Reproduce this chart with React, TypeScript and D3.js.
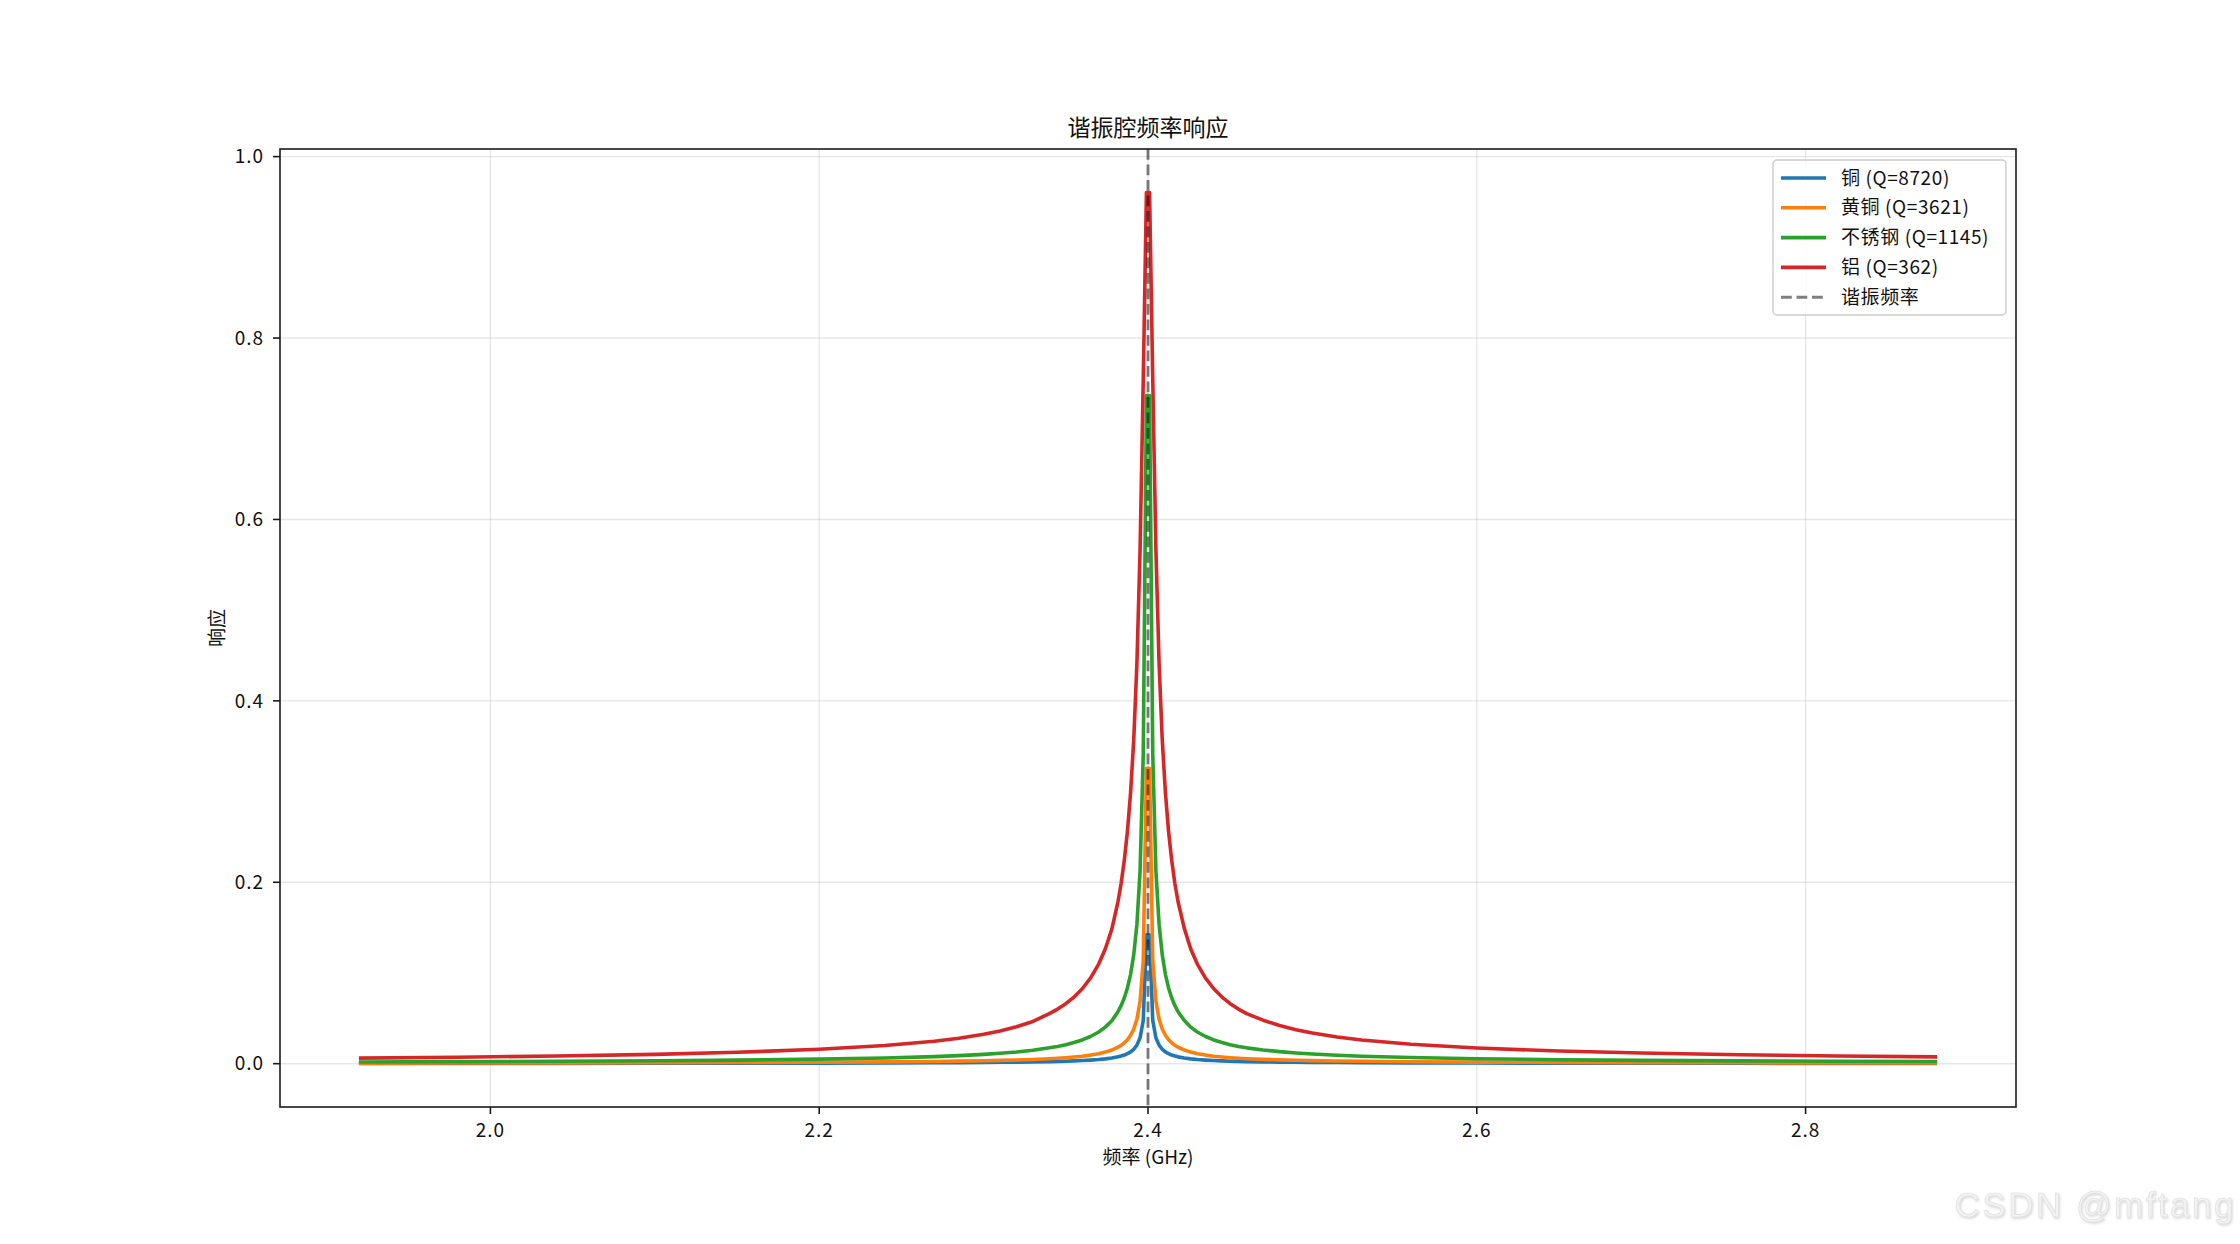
import React from "react";
import * as d3 from "d3";

const freqs = [
  1.92, 1.98, 2.04, 2.1, 2.15, 2.2, 2.24, 2.27, 2.285, 2.3, 2.31, 2.32, 2.33, 2.34, 2.345, 2.35, 2.355, 2.36,
  2.365, 2.37, 2.374, 2.378,
  2.381724, 2.383648, 2.385571, 2.387495, 2.389419, 2.391343, 2.393267, 2.39519, 2.397114, 2.399038,
  2.400962, 2.402886, 2.40481, 2.406733, 2.408657, 2.410581, 2.412505, 2.414429, 2.416352, 2.418276,
  2.422, 2.426, 2.43, 2.435, 2.44, 2.445, 2.45, 2.455, 2.46, 2.47, 2.48, 2.49, 2.5, 2.515, 2.53, 2.56, 2.6,
  2.65, 2.7, 2.76, 2.82, 2.88,
];

const copper = [
  0.000255, 0.000296, 0.000351, 0.000428, 0.00052, 0.000658, 0.00083, 0.001029, 0.001167, 0.001347, 0.0015,
  0.001691, 0.001937, 0.002294, 0.002502, 0.002752, 0.003058, 0.00344, 0.003932, 0.004587, 0.005293, 0.006227,
  0.00753, 0.008415, 0.009537, 0.011, 0.01301, 0.0159, 0.02044, 0.02861, 0.04763, 0.1417,
  0.1417, 0.04763, 0.02861, 0.02044, 0.0159, 0.01301, 0.011, 0.009537, 0.008415, 0.00753,
  0.006284, 0.005293, 0.004587, 0.003932, 0.00344, 0.003058, 0.002752, 0.002502, 0.002294, 0.001994, 0.001748,
  0.001557, 0.001404, 0.001225, 0.001086, 0.000888, 0.000716, 0.000578, 0.000486, 0.000409, 0.000354, 0.000313,
];

const brass = [
  0.000614, 0.000713, 0.000846, 0.001031, 0.001253, 0.001585, 0.002, 0.002478, 0.002811, 0.003243, 0.003612,
  0.004072, 0.004664, 0.005523, 0.006025, 0.006628, 0.007364, 0.008285, 0.009469, 0.01105, 0.01275, 0.01499,
  0.01813, 0.02026, 0.02296, 0.0265, 0.03131, 0.03825, 0.04916, 0.06873, 0.1141, 0.3257,
  0.3257, 0.1141, 0.06873, 0.04916, 0.03825, 0.03131, 0.0265, 0.02296, 0.02026, 0.01813,
  0.01513, 0.01275, 0.01105, 0.009469, 0.008285, 0.007364, 0.006628, 0.006025, 0.005523, 0.004802, 0.00421,
  0.00375, 0.003382, 0.002949, 0.002616, 0.002138, 0.001723, 0.001391, 0.00117, 0.000985, 0.000853, 0.000753,
];

const steel = [
  0.001941, 0.002256, 0.002675, 0.003261, 0.003962, 0.005012, 0.006325, 0.007837, 0.00889, 0.010257, 0.011422,
  0.012878, 0.01475, 0.01747, 0.01905, 0.02096, 0.02328, 0.02619, 0.02993, 0.03491, 0.04029, 0.04737,
  0.05725, 0.06396, 0.07244, 0.08352, 0.09856, 0.1202, 0.1538, 0.2129, 0.3413, 0.7367,
  0.7367, 0.3413, 0.2129, 0.1538, 0.1202, 0.09856, 0.08352, 0.07244, 0.06396, 0.05725,
  0.0478, 0.04029, 0.03491, 0.02993, 0.02619, 0.02328, 0.02096, 0.01905, 0.01747, 0.01518, 0.013315,
  0.011859, 0.010694, 0.009326, 0.008274, 0.006761, 0.00545, 0.0044, 0.003699, 0.003114, 0.002696, 0.002382,
];

const aluminum = [
  0.006139, 0.007136, 0.008462, 0.01031, 0.01253, 0.01585, 0.02, 0.02478, 0.02811, 0.03243, 0.0361, 0.0407,
  0.0466, 0.05516, 0.06016, 0.06615, 0.07347, 0.08259, 0.09429, 0.1098, 0.1265, 0.1483,
  0.1785, 0.1987, 0.2239, 0.2562, 0.299, 0.3576, 0.4417, 0.5675, 0.7542, 0.9604,
  0.9604, 0.7542, 0.5675, 0.4417, 0.3576, 0.299, 0.2562, 0.2239, 0.1987, 0.1785,
  0.1497, 0.1265, 0.1098, 0.09429, 0.08259, 0.07347, 0.06615, 0.06016, 0.05516, 0.04798, 0.04208,
  0.03748, 0.03381, 0.02949, 0.02617, 0.02138, 0.01724, 0.01392, 0.0117, 0.009851, 0.008527, 0.007534,
];

const seriesNames = ["铜 (Q=8720)", "黄铜 (Q=3621)", "不锈钢 (Q=1145)", "铝 (Q=362)"];
const seriesColors = ["#1f77b4", "#ff7f0e", "#2ca02c", "#d62728"];
const seriesValues = [copper, brass, steel, aluminum];
const resonanceFreq = 2.4;
const resonanceLabel = "谐振频率";

const xTicks = [2.0, 2.2, 2.4, 2.6, 2.8];
const yTicks = [0.0, 0.2, 0.4, 0.6, 0.8, 1.0];

const titleText = "谐振腔频率响应";
const xLabel = "频率 (GHz)";
const yLabel = "响应";

const W = 2240;
const H = 1244;
const L = 280;
const R = 2016;
const T = 149;
const B = 1107;
const FONT = "'Noto Sans CJK SC', 'Noto Sans', sans-serif";

export default function App() {
  const xMin = d3.min(freqs)!;
  const xMax = d3.max(freqs)!;
  const xPad = (xMax - xMin) * 0.05;
  const allVals = seriesValues.flat();
  const yMin = d3.min(allVals)!;
  const yMax = d3.max(allVals)!;
  const yPad = (yMax - yMin) * 0.05;

  const x = d3.scaleLinear().domain([xMin - xPad, xMax + xPad]).range([L, R]);
  const y = d3.scaleLinear().domain([yMin - yPad, yMax + yPad]).range([B, T]);

  const line = d3
    .line<number>()
    .x((_, i) => x(freqs[i]))
    .y((v) => y(v));

  const legX = 1773;
  const legY = 160;
  const legW = 233;
  const legH = 155;
  const rowGap = 29.8;
  const legendItems = [
    ...seriesNames.map((n, i) => ({ name: n, color: seriesColors[i], dashed: false })),
    { name: resonanceLabel, color: "rgba(0,0,0,0.5)", dashed: true },
  ];

  return (
    <svg
      width={W}
      height={H}
      style={{ position: "absolute", left: 0, top: 0, background: "#fff" }}
      fontFamily={FONT}
    >
      <defs>
        <clipPath id="plotclip">
          <rect x={L} y={T} width={R - L} height={B - T} />
        </clipPath>
        <filter id="emboss" x="-5%" y="-20%" width="110%" height="150%">
          <feDropShadow dx="1" dy="1.5" stdDeviation="0.9" floodColor="#a8a8a8" floodOpacity="0.45" />
        </filter>
      </defs>
      <rect x={0} y={0} width={W} height={H} fill="#fff" />

      {/* grid */}
      {xTicks.map((t) => (
        <line key={"gx" + t} x1={x(t)} x2={x(t)} y1={T} y2={B} stroke="#b0b0b0" strokeOpacity={0.3} strokeWidth={1.4} />
      ))}
      {yTicks.map((t) => (
        <line key={"gy" + t} x1={L} x2={R} y1={y(t)} y2={y(t)} stroke="#b0b0b0" strokeOpacity={0.3} strokeWidth={1.4} />
      ))}

      {/* curves */}
      <g clipPath="url(#plotclip)">
        {seriesValues.map((vals, i) => (
          <path
            key={"s" + i}
            d={line(vals) || ""}
            fill="none"
            stroke={seriesColors[i]}
            strokeWidth={3.6}
            strokeLinejoin="round"
            strokeLinecap="butt"
          />
        ))}
        <line
          x1={x(resonanceFreq)}
          x2={x(resonanceFreq)}
          y1={T}
          y2={B}
          stroke="#000"
          strokeOpacity={0.5}
          strokeWidth={2.9}
          strokeDasharray="10.8 4.7"
        />
      </g>

      {/* spines */}
      <rect x={L} y={T} width={R - L} height={B - T} fill="none" stroke="#1a1a1a" strokeWidth={1.6} />

      {/* x ticks */}
      {xTicks.map((t) => (
        <g key={"xt" + t}>
          <line x1={x(t)} x2={x(t)} y1={B} y2={B + 7} stroke="#1a1a1a" strokeWidth={1.6} />
          <text x={x(t)} y={B + 30} textAnchor="middle" fontSize={19} fill="#111" letterSpacing={1}>
            {t.toFixed(1)}
          </text>
        </g>
      ))}
      {/* y ticks */}
      {yTicks.map((t) => (
        <g key={"yt" + t}>
          <line x1={L - 7} x2={L} y1={y(t)} y2={y(t)} stroke="#1a1a1a" strokeWidth={1.6} />
          <text x={L - 16} y={y(t)} dy="0.35em" textAnchor="end" fontSize={19} fill="#111" letterSpacing={1}>
            {t.toFixed(1)}
          </text>
        </g>
      ))}

      {/* labels */}
      <text x={(L + R) / 2} y={136} textAnchor="middle" fontSize={23} fill="#111">
        {titleText}
      </text>
      <text x={(L + R) / 2} y={1164} textAnchor="middle" fontSize={19} fill="#111">
        {xLabel}
      </text>
      <text
        transform={`translate(224, ${(T + B) / 2}) rotate(-90)`}
        textAnchor="middle"
        fontSize={19}
        fill="#111"
      >
        {yLabel}
      </text>

      {/* legend */}
      <rect
        x={legX}
        y={legY}
        width={legW}
        height={legH}
        rx={4}
        fill="#fff"
        fillOpacity={0.8}
        stroke="#cccccc"
        strokeWidth={1.4}
      />
      {legendItems.map((it, i) => {
        const cy = 178 + i * rowGap;
        return (
          <g key={"lg" + i}>
            <line
              x1={1781}
              x2={1826}
              y1={cy}
              y2={cy}
              stroke={it.color}
              strokeWidth={it.dashed ? 2.9 : 3.6}
              strokeDasharray={it.dashed ? "10.8 4.7" : undefined}
            />
            <text x={1841} y={cy} dy="0.35em" fontSize={19} fill="#111" letterSpacing={0.6}>
              {it.name}
            </text>
          </g>
        );
      })}

      {/* watermark */}
      <text
        x={2236}
        y={1217}
        textAnchor="end"
        fontSize={35}
        letterSpacing={2.5}
        fontFamily="'Liberation Sans', Arial, sans-serif"
        fill="#f2f2f2"
        stroke="#e0e0e0"
        strokeWidth={0.6}
        filter="url(#emboss)"
      >
        CSDN @mftang
      </text>
    </svg>
  );
}
